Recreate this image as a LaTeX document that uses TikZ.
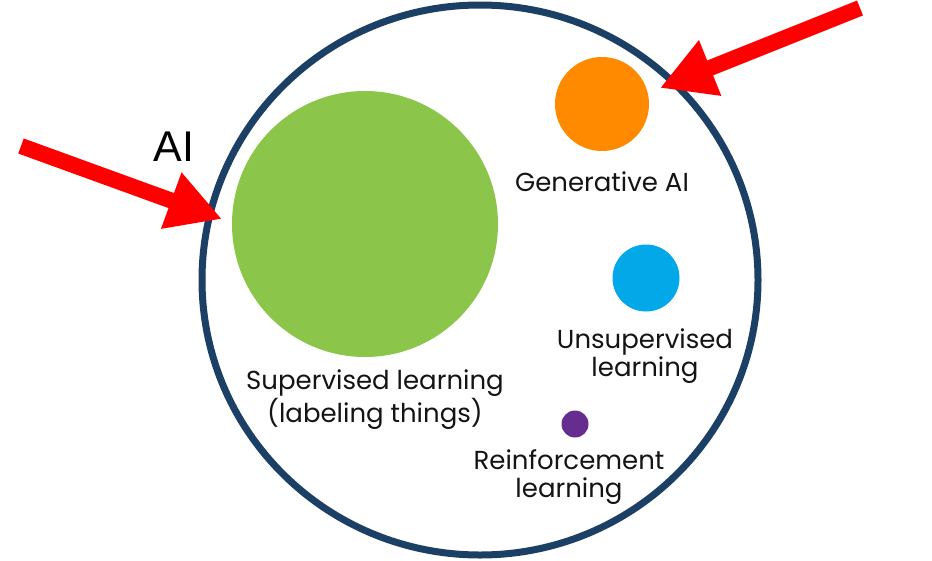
\documentclass[tikz,border=0pt]{standalone}
\usepackage{fontspec}
\setmainfont{Poppins}
\newfontfamily\arialfont{Liberation Sans}
\usetikzlibrary{arrows.meta,shapes.geometric}
\definecolor{navy}{HTML}{1C3F66}
\definecolor{sgreen}{HTML}{8BC64A}
\definecolor{gorange}{HTML}{FF8A00}
\definecolor{ublue}{HTML}{02A8E8}
\definecolor{rpurple}{HTML}{662D91}
\definecolor{arrred}{HTML}{FF0000}
\begin{document}
\begin{tikzpicture}[x=1pt,y=-1pt,
  dot/.style={circle,inner sep=0pt,draw=none},
  lbl/.style={inner sep=0pt,anchor=base,align=center,font=\fontsize{26}{28}\selectfont,text=black!92},
  fatarrow/.style={draw=arrred,line width=16pt,-{Triangle[length=54pt,width=56pt]},fill=arrred}]
\useasboundingbox (0,0) rectangle (932,560);
\fill[white] (0,0) rectangle (932,560);
\node[ellipse,draw=navy,line width=7pt,minimum width=556pt,minimum height=550pt,inner sep=0pt] (ai) at (480,280) {};
\node[dot,fill=sgreen,minimum size=266pt] (sup) at (365,224) {};
\node[dot,fill=gorange,minimum size=94pt] (gen) at (602,104) {};
\node[dot,fill=ublue,minimum size=67pt] (uns) at (646,278) {};
\node[dot,fill=rpurple,minimum size=27pt] (rei) at (575,424) {};
\node[lbl] (tgen) at (602,191) {Generative AI};
\node[lbl] (tuns) at (645,376) {Unsupervised\\learning};
\node[lbl] (tsup) at (375,422) {Supervised learning\\(labeling things)};
\node[lbl] (trei) at (569,497) {Reinforcement\\learning};
\node[inner sep=0pt,anchor=base,font=\arialfont\fontsize{43}{43}\selectfont] (tai) at (174,161) {AI};
\coordinate (ltail) at (21,146);
\coordinate (lhead) at (222,219);
\coordinate (rtail) at (860,8);
\coordinate (rhead) at (660,88);
\draw[fatarrow] (ltail) -- (lhead);
\draw[fatarrow] (rtail) -- (rhead);
\end{tikzpicture}
\end{document}
